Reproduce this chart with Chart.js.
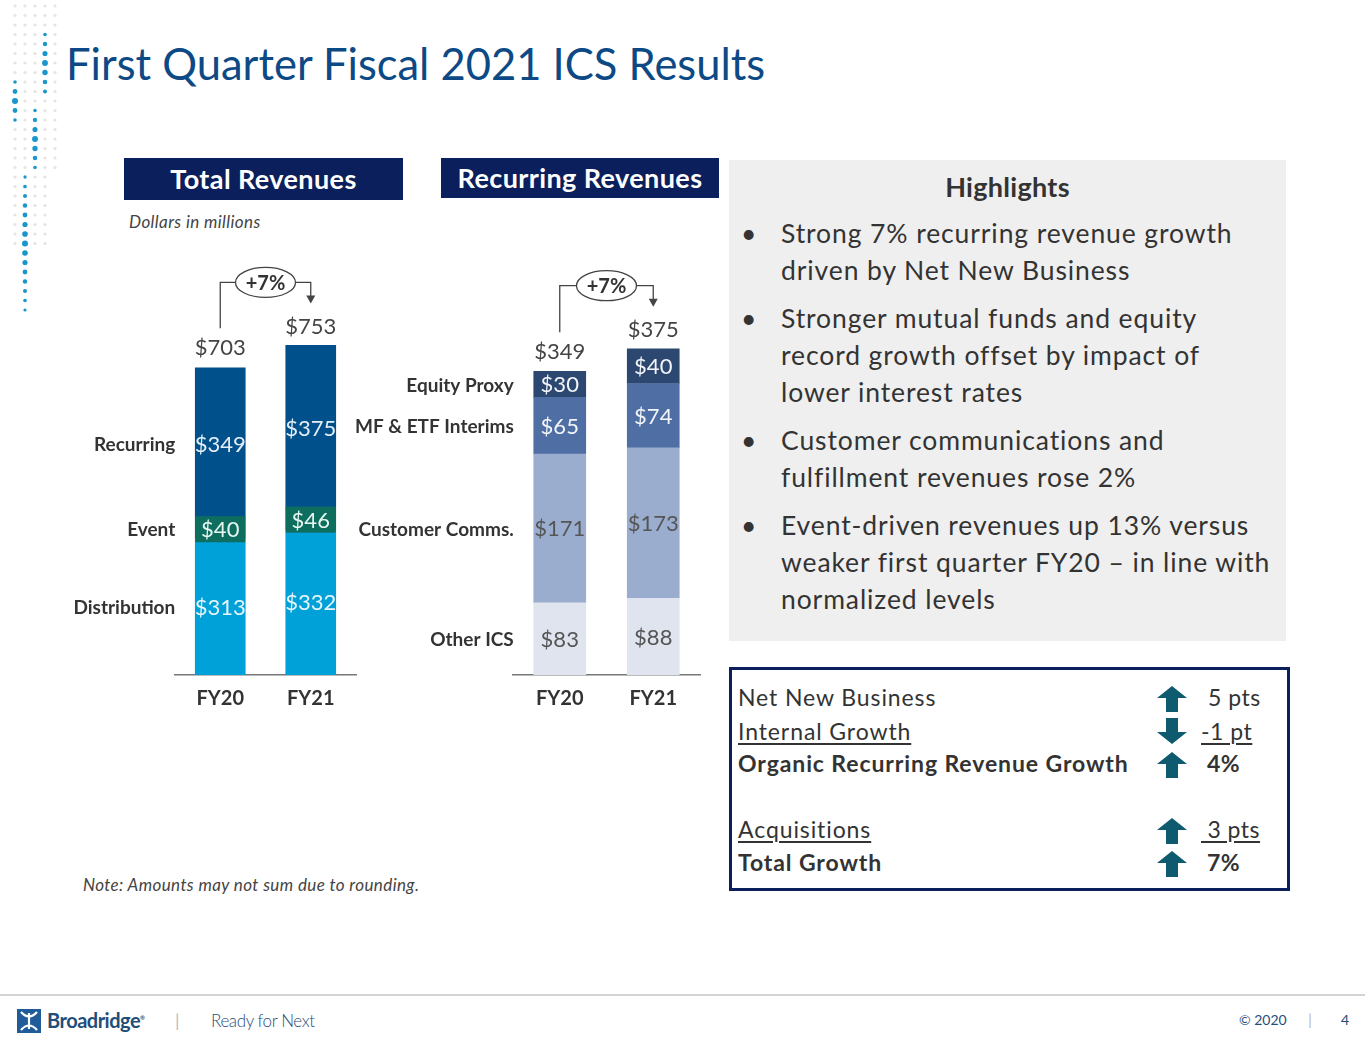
<!DOCTYPE html>
<html lang="en">
<head>
<meta charset="UTF-8" />
<title>First Quarter Fiscal 2021 ICS Results</title>
<script src="https://cdn.jsdelivr.net/npm/chart.js"></script>
<style>
    body { margin: 0; background: #fff; font-family: Lato, "Open Sans", sans-serif; }
    .slide { position: relative; width: 1365px; height: 1055px; overflow: hidden; }
    .abs { position: absolute; }
    h1 { position: absolute; left: 66px; top: 37px; margin: 0; font-weight: 400; font-size: 43.5px; color: #0d4a85; }
    .hdr { position: absolute; background: #0a1f5c; color: #fff; font-weight: 700; font-size: 27px; letter-spacing: 0.4px; text-align: center; }
    .note { font-style: italic; font-size: 17px; color: #444; letter-spacing: 0.4px; }
    .panel { position: absolute; left: 729px; top: 160px; width: 557px; height: 481px; background: #efefef; }
    .panel h2 { margin: 0; position: absolute; top: 10px; width: 100%; text-align: center; font-size: 27px; font-weight: 700; color: #333; letter-spacing: 0.3px; }
    .panel ul { position: absolute; left: 0; margin: 0; padding: 0; list-style: none; }
    .panel li { position: relative; padding-left: 52px; font-size: 26.5px; letter-spacing: 0.9px; line-height: 37px; color: #333; margin-bottom: 11px; white-space: nowrap; }
    .panel li::before { content: "\2022"; position: absolute; left: 12px; letter-spacing: 0; }
    .growth { position: absolute; left: 729px; top: 667px; width: 555px; height: 218px; border: 3px solid #0a1f5c; }
    .row { position: absolute; left: 6px; font-size: 23px; color: #333; letter-spacing: 0.9px; white-space: nowrap; }
    .val { position: absolute; font-size: 23px; color: #333; letter-spacing: 0.5px; }
    .u { text-decoration: underline; text-underline-offset: 3px; }
    .b { font-weight: 700; }
    .arr { position: absolute; left: 425px; width: 30px; height: 26px; }
    .foot { position: absolute; top: 994px; left: 0; width: 1365px; border-top: 2px solid #d4d4d4; }
</style>
</head>
<body>
<div class="slide">
    <canvas id="dots" class="abs" width="60" height="320" style="left:0;top:0"></canvas>
    <h1>First Quarter Fiscal 2021 ICS Results</h1>

    <div class="hdr" style="left:124px;top:158px;width:279px;height:42px;line-height:42px">Total Revenues</div>
    <div class="hdr" style="left:441px;top:158px;width:278px;height:40px;line-height:40px">Recurring Revenues</div>
    <div class="abs note" style="left:129px;top:211px">Dollars in millions</div>

    <div class="abs" style="left:60px;top:250px;width:310px;height:473px"><canvas id="totalChart"></canvas></div>
    <div class="abs" style="left:350px;top:253px;width:360px;height:470px"><canvas id="recurringChart"></canvas></div>

    <div class="abs note" style="left:83px;top:874px">Note: Amounts may not sum due to rounding.</div>

    <div class="panel">
        <h2>Highlights</h2>
        <ul style="top:55px">
            <li>Strong 7% recurring revenue growth<br>driven by Net New Business</li>
            <li>Stronger mutual funds and equity<br>record growth offset by impact of<br>lower interest rates</li>
            <li>Customer communications and<br>fulfillment revenues rose 2%</li>
            <li>Event-driven revenues up 13% versus<br>weaker first quarter FY20 &ndash; in line with<br>normalized levels</li>
        </ul>
    </div>

    <div class="growth">
        <div class="row" style="top:13px">Net New Business</div>
        <div class="row u" style="top:47px">Internal Growth</div>
        <div class="row b" style="top:79px">Organic Recurring Revenue Growth</div>
        <div class="row u" style="top:145px">Acquisitions</div>
        <div class="row b" style="top:178px">Total Growth</div>

        <svg class="arr" style="top:16px" viewBox="0 0 30 26"><path d="M15 0 L30 12 L21 12 L21 26 L9 26 L9 12 L0 12 Z" fill="#0e5a6e"/></svg>
        <svg class="arr" style="top:48px" viewBox="0 0 30 26"><path d="M15 26 L30 14 L21 14 L21 0 L9 0 L9 14 L0 14 Z" fill="#0e5a6e"/></svg>
        <svg class="arr" style="top:82px" viewBox="0 0 30 26"><path d="M15 0 L30 12 L21 12 L21 26 L9 26 L9 12 L0 12 Z" fill="#0e5a6e"/></svg>
        <svg class="arr" style="top:148px" viewBox="0 0 30 26"><path d="M15 0 L30 12 L21 12 L21 26 L9 26 L9 12 L0 12 Z" fill="#0e5a6e"/></svg>
        <svg class="arr" style="top:181px" viewBox="0 0 30 26"><path d="M15 0 L30 12 L21 12 L21 26 L9 26 L9 12 L0 12 Z" fill="#0e5a6e"/></svg>

        <div class="val" style="left:476px;top:13px">5 pts</div>
        <div class="val u" style="left:469px;top:47px">-1 pt</div>
        <div class="val b" style="left:475px;top:79px">4%</div>
        <div class="val u" style="left:469px;top:145px">&nbsp;3 pts</div>
        <div class="val b" style="left:475px;top:178px">7%</div>
    </div>

    <div class="foot"></div>
    <svg class="abs" style="left:17px;top:1009px" width="24" height="24" viewBox="0 0 24 24">
        <rect width="24" height="24" fill="#1f5c99"/>
        <path d="M4 3 Q12 12 20 3 M4 21 Q12 12 20 21 M12 4 L12 20" stroke="#fff" stroke-width="2.2" fill="none"/>
    </svg>
    <div class="abs" style="left:47px;top:1008px;font-size:20px;font-weight:700;color:#1f4e79;letter-spacing:-0.5px">Broadridge<sup style="font-size:6px">&reg;</sup></div>
    <div class="abs" style="left:175px;top:1009px;font-size:18px;color:#bbb">|</div>
    <div class="abs" style="left:211px;top:1010px;font-size:17px;font-weight:300;color:#1f4e79;letter-spacing:-0.4px">Ready for Next</div>
    <div class="abs" style="left:1239px;top:1011px;font-size:14px;color:#1f4e79">&copy; 2020</div>
    <div class="abs" style="left:1308px;top:1009px;font-size:16px;color:#bbb">|</div>
    <div class="abs" style="left:1341px;top:1011px;font-size:14px;color:#1f4e79">4</div>
</div>

<script>
    // Data (dollars in millions)
    const years = ["FY20", "FY21"];
    const distribution = [313, 332];
    const eventDriven = [40, 46];
    const recurring = [349, 375];
    const totalRevenue = [703, 753];

    const otherIcs = [83, 88];
    const customerComms = [171, 173];
    const mfEtfInterims = [65, 74];
    const equityProxy = [30, 40];
    const recurringTotal = [349, 375];

    const growthLabel = "+7%";

    const FONT = "Lato, 'Open Sans', sans-serif";

    // decorative dot pattern, top-left corner
    (function drawDots() {
        const c = document.getElementById("dots").getContext("2d");
        const cols = [15, 25, 35, 45, 55];
        const blue = { 45: [30, 100], 15: [80, 122], 35: [108, 172], 25: [176, 310] };
        cols.forEach(x => {
            for (let y = 6; y < 315; y += 9.5) {
                const range = blue[x];
                const isBlue = range && y >= range[0] && y <= range[1];
                if (!isBlue && (y > 250 || (x === 55 && y > 170))) continue;
                const mid = range ? (range[0] + range[1]) / 2 : 0;
                const r = isBlue ? 1.6 + 1.4 * (1 - Math.abs(y - mid) / ((range[1] - range[0]) / 2 + 1)) : 1.6;
                c.beginPath();
                c.arc(x, y, r, 0, Math.PI * 2);
                c.fillStyle = isBlue ? "#1a96cc" : "#e4e4e4";
                c.fill();
            }
        });
    })();

    // value labels centred in each segment
    const segmentLabels = {
        id: "segmentLabels",
        afterDatasetsDraw(chart) {
            const ctx = chart.ctx;
            ctx.save();
            ctx.font = "22px " + FONT;
            ctx.textAlign = "center";
            ctx.textBaseline = "middle";
            chart.data.datasets.forEach((ds, i) => {
                chart.getDatasetMeta(i).data.forEach((bar, j) => {
                    const y = (bar.y + bar.base) / 2;
                    if (ds.labelBox) {
                        ctx.fillStyle = ds.backgroundColor;
                        ctx.fillRect(bar.x - bar.width / 2, y - 13, bar.width, 26);
                    }
                    ctx.fillStyle = ds.labelColor;
                    ctx.fillText("$" + ds.data[j], bar.x, y + 1);
                });
            });
            // category names to the left of the first bar
            ctx.font = "bold 19px " + FONT;
            ctx.textAlign = "right";
            ctx.fillStyle = "#333";
            chart.data.datasets.forEach((ds, i) => {
                const bar = chart.getDatasetMeta(i).data[0];
                ctx.fillText(ds.label, bar.x - bar.width / 2 - 20, (bar.y + bar.base) / 2 + 1);
            });
            ctx.restore();
        }
    };

    // totals above bars and the +7% growth connector
    const totalsGrowth = {
        id: "totalsGrowth",
        afterDatasetsDraw(chart, args, opts) {
            const ctx = chart.ctx;
            const x = chart.scales.x, y = chart.scales.y;
            const x0 = x.getPixelForValue(0), x1 = x.getPixelForValue(1);
            const top0 = y.getPixelForValue(opts.totals[0]);
            const top1 = y.getPixelForValue(opts.totals[1]);
            ctx.save();
            ctx.font = "22px " + FONT;
            ctx.textAlign = "center";
            ctx.textBaseline = "middle";
            ctx.fillStyle = "#444";
            const lab0 = top0 - 19, lab1 = top1 - 19;
            ctx.fillText("$" + opts.totals[0], x0, lab0);
            ctx.fillText("$" + opts.totals[1], x1, lab1);

            const ey = top1 - 63, ex = (x0 + x1) / 2, rx = 30, ry = 15;
            ctx.strokeStyle = "#444";
            ctx.lineWidth = 1.3;
            ctx.beginPath();
            ctx.moveTo(x0, lab0 - 20);
            ctx.lineTo(x0, ey);
            ctx.lineTo(ex - rx, ey);
            ctx.moveTo(ex + rx, ey);
            ctx.lineTo(x1, ey);
            ctx.lineTo(x1, lab1 - 30);
            ctx.stroke();
            ctx.beginPath();
            ctx.moveTo(x1 - 4.5, lab1 - 31);
            ctx.lineTo(x1 + 4.5, lab1 - 31);
            ctx.lineTo(x1, lab1 - 23);
            ctx.closePath();
            ctx.fillStyle = "#444";
            ctx.fill();

            ctx.beginPath();
            ctx.ellipse(ex, ey, rx, ry, 0, 0, Math.PI * 2);
            ctx.fillStyle = "#fff";
            ctx.fill();
            ctx.stroke();
            ctx.fillStyle = "#333";
            ctx.font = "bold 20px " + FONT;
            ctx.fillText(opts.label, ex, ey + 1);
            ctx.restore();
        }
    };

    function makeChart(id, datasets, totals, yMax, barWidth, padLeft, padRight) {
        return new Chart(document.getElementById(id), {
            type: "bar",
            data: { labels: years, datasets: datasets },
            options: {
                responsive: true,
                maintainAspectRatio: false,
                animation: false,
                barThickness: barWidth,
                layout: { padding: { left: padLeft, right: padRight, top: 0, bottom: 0 } },
                scales: {
                    x: {
                        stacked: true,
                        grid: { display: false, drawTicks: false },
                        border: { display: true, color: "#777", width: 1.5 },
                        ticks: { color: "#333", padding: 12, font: { family: FONT, size: 20, weight: "bold" } }
                    },
                    y: { stacked: true, display: false, min: 0, max: yMax }
                },
                plugins: {
                    legend: { display: false },
                    tooltip: { enabled: false },
                    totalsGrowth: { totals: totals, label: growthLabel }
                }
            },
            plugins: [segmentLabels, totalsGrowth]
        });
    }

    makeChart("totalChart", [
        { label: "Distribution", data: distribution, backgroundColor: "#00a0d8", labelColor: "#e8f6fc" },
        { label: "Event", data: eventDriven, backgroundColor: "#0d6e5f", labelColor: "#e8f6f2", labelBox: true },
        { label: "Recurring", data: recurring, backgroundColor: "#00508c", labelColor: "#e6eff8" }
    ], totalRevenue, 971, 50, 115, 14);

    makeChart("recurringChart", [
        { label: "Other ICS", data: otherIcs, backgroundColor: "#dfe4ef", labelColor: "#555" },
        { label: "Customer Comms.", data: customerComms, backgroundColor: "#9aadce", labelColor: "#555" },
        { label: "MF & ETF Interims", data: mfEtfInterims, backgroundColor: "#4f6ea3", labelColor: "#f2f5fa" },
        { label: "Equity Proxy", data: equityProxy, backgroundColor: "#2c4870", labelColor: "#f2f5fa" }
    ], recurringTotal, 485, 52, 163, 10);
</script>
</body>
</html>
